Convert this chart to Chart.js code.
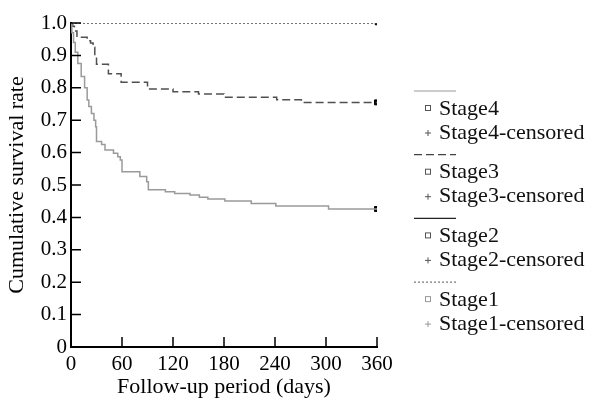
<!DOCTYPE html>
<html>
<head>
<meta charset="utf-8">
<script src="https://cdn.jsdelivr.net/npm/chart.js@4/dist/chart.umd.min.js"></script>
<style>
  html, body { margin: 0; padding: 0; background: #fff; }
  #wrap { width: 592px; height: 398px; }
</style>
</head>
<body>
<div id="wrap"><canvas id="survivalChart" width="592" height="398"></canvas></div>
<script>
// axis ticks
const xTicks = [0, 60, 120, 180, 240, 300, 360];
const yTicks = [0, 0.1, 0.2, 0.3, 0.4, 0.5, 0.6, 0.7, 0.8, 0.9, 1.0];
const yTickLabels = ['0', '0.1', '0.2', '0.3', '0.4', '0.5', '0.6', '0.7', '0.8', '0.9', '1.0'];

// Kaplan-Meier steps: day of the step and the survival rate from that day on
const stage4Days = [0, 1, 3, 5, 8, 12, 16, 19, 21, 24, 27, 29, 30, 36, 40, 50, 55, 58, 60, 81, 89, 91, 111, 122, 140, 151, 161, 181, 212, 241, 303, 360];
const stage4Rate = [1.0, 0.97, 0.94, 0.91, 0.875, 0.835, 0.80, 0.762, 0.742, 0.721, 0.70, 0.68, 0.634, 0.625, 0.608, 0.598, 0.587, 0.577, 0.541, 0.526, 0.51, 0.485, 0.479, 0.474, 0.469, 0.462, 0.457, 0.451, 0.443, 0.435, 0.426, 0.426];

const stage3Days = [0, 2, 4, 7, 19, 23, 26, 28, 30, 44, 59, 90, 120, 150, 180, 242, 271, 360];
const stage3Rate = [1.0, 0.99, 0.975, 0.956, 0.945, 0.938, 0.925, 0.90, 0.873, 0.843, 0.817, 0.796, 0.788, 0.781, 0.771, 0.763, 0.755, 0.755];

// Stage2 has no separate visible curve in the figure
const stage2Days = [];
const stage2Rate = [];

const stage1Days = [0, 360];
const stage1Rate = [1.0, 1.0];

// censored marks (piled up at the end of follow-up)
const stage4CensDays = [360];
const stage4CensRate = [0.426];
const stage3CensDays = [360];
const stage3CensRate = [0.755];
const stage2CensDays = [];
const stage2CensRate = [];
const stage1CensDays = [360];
const stage1CensRate = [1.0];

const toPoints = (days, rate) => days.map((d, i) => ({ x: d, y: rate[i] }));

const serif = '"Liberation Serif", "Times New Roman", serif';

function curve(label, days, rate, color, dash, width) {
  return {
    label: label,
    data: toPoints(days, rate),
    borderColor: color,
    borderDash: dash,
    borderWidth: width,
    stepped: true,
    pointRadius: 0,
    fill: false
  };
}

function censored(label, days, rate, size) {
  return {
    label: label,
    data: toPoints(days, rate),
    showLine: false,
    pointStyle: 'rect',
    pointRadius: size,
    backgroundColor: '#000',
    borderColor: '#000',
    borderWidth: 1
  };
}

const datasets = [
  curve('Stage4', stage4Days, stage4Rate, '#9a9a9a', [], 1.5),
  curve('Stage3', stage3Days, stage3Rate, '#505050', [8, 4], 1.5),
  curve('Stage2', stage2Days, stage2Rate, '#222', [], 1.5),
  curve('Stage1', stage1Days, stage1Rate, '#444', [2, 2], 1.5),
  censored('Stage4-censored', stage4CensDays, stage4CensRate, 3.5),
  censored('Stage3-censored', stage3CensDays, stage3CensRate, 3.5),
  censored('Stage2-censored', stage2CensDays, stage2CensRate, 3),
  censored('Stage1-censored', stage1CensDays, stage1CensRate, 2.5)
];

// legend groups: [curve index, censored index, line colour, marker colour]
const legendGroups = [
  [0, 4, '#999', '#555'],
  [1, 5, '#444', '#555'],
  [2, 6, '#222', '#555'],
  [3, 7, '#777', '#999']
];

const innerTicks = {
  id: 'innerTicks',
  afterDatasetsDraw(chart) {
    const { ctx, chartArea: a, scales: { x, y } } = chart;
    ctx.save();
    ctx.strokeStyle = '#000';
    ctx.lineWidth = 1.5;
    ctx.beginPath();
    yTicks.forEach(v => {
      const py = y.getPixelForValue(v);
      ctx.moveTo(a.left, py);
      ctx.lineTo(a.left + 10, py);
    });
    xTicks.forEach(v => {
      const px = x.getPixelForValue(v);
      ctx.moveTo(px, a.bottom);
      ctx.lineTo(px, a.bottom - 10);
    });
    ctx.stroke();
    ctx.restore();
  }
};

const sideLegend = {
  id: 'sideLegend',
  afterDraw(chart) {
    const ctx = chart.ctx;
    ctx.save();
    ctx.font = '22px ' + serif;
    ctx.textBaseline = 'middle';
    legendGroups.forEach((g, i) => {
      const line = chart.data.datasets[g[0]];
      const cens = chart.data.datasets[g[1]];
      const y0 = 91 + i * 63.7;
      // line sample
      ctx.strokeStyle = g[2];
      ctx.lineWidth = 1.2;
      ctx.setLineDash(line.borderDash);
      ctx.beginPath();
      ctx.moveTo(414, y0);
      ctx.lineTo(456, y0);
      ctx.stroke();
      ctx.setLineDash([]);
      // square marker
      ctx.strokeStyle = g[3];
      ctx.lineWidth = 1;
      ctx.strokeRect(425.5, y0 + 14.5, 5, 5);
      // plus marker
      ctx.beginPath();
      ctx.moveTo(425, y0 + 42);
      ctx.lineTo(431, y0 + 42);
      ctx.moveTo(428, y0 + 39);
      ctx.lineTo(428, y0 + 45);
      ctx.stroke();
      ctx.fillStyle = '#111';
      ctx.fillText(line.label, 439, y0 + 18);
      ctx.fillText(cens.label, 439, y0 + 42);
    });
    ctx.restore();
  }
};

new Chart(document.getElementById('survivalChart'), {
  type: 'line',
  data: { datasets: datasets },
  options: {
    responsive: false,
    animation: false,
    layout: { padding: { top: 23, right: 215, bottom: 0, left: 0 } },
    plugins: {
      legend: { display: false },
      tooltip: { enabled: false }
    },
    scales: {
      x: {
        type: 'linear',
        min: 0,
        max: 360,
        afterBuildTicks: s => { s.ticks = xTicks.map(v => ({ value: v })); },
        afterFit: s => { s.height = 51; },
        grid: { display: false, drawTicks: false },
        border: { display: true, color: '#000', width: 2 },
        ticks: { color: '#000', font: { family: serif, size: 21 }, padding: 5, maxRotation: 0 },
        title: {
          display: true,
          text: 'Follow-up period (days)',
          color: '#000',
          font: { family: serif, size: 22 },
          padding: { top: 0, bottom: -2 }
        }
      },
      y: {
        type: 'linear',
        min: 0,
        max: 1,
        afterBuildTicks: s => { s.ticks = yTicks.map(v => ({ value: v })); },
        afterFit: s => { s.width = 71; },
        grid: { display: false, drawTicks: false },
        border: { display: true, color: '#000', width: 2 },
        ticks: {
          color: '#000',
          font: { family: serif, size: 21 },
          padding: 4,
          callback: (v, i) => yTickLabels[i]
        },
        title: {
          display: true,
          text: 'Cumulative survival rate',
          color: '#000',
          font: { family: serif, size: 22 },
          padding: { top: 4, bottom: 0 }
        }
      }
    }
  },
  plugins: [innerTicks, sideLegend]
});
</script>
</body>
</html>
